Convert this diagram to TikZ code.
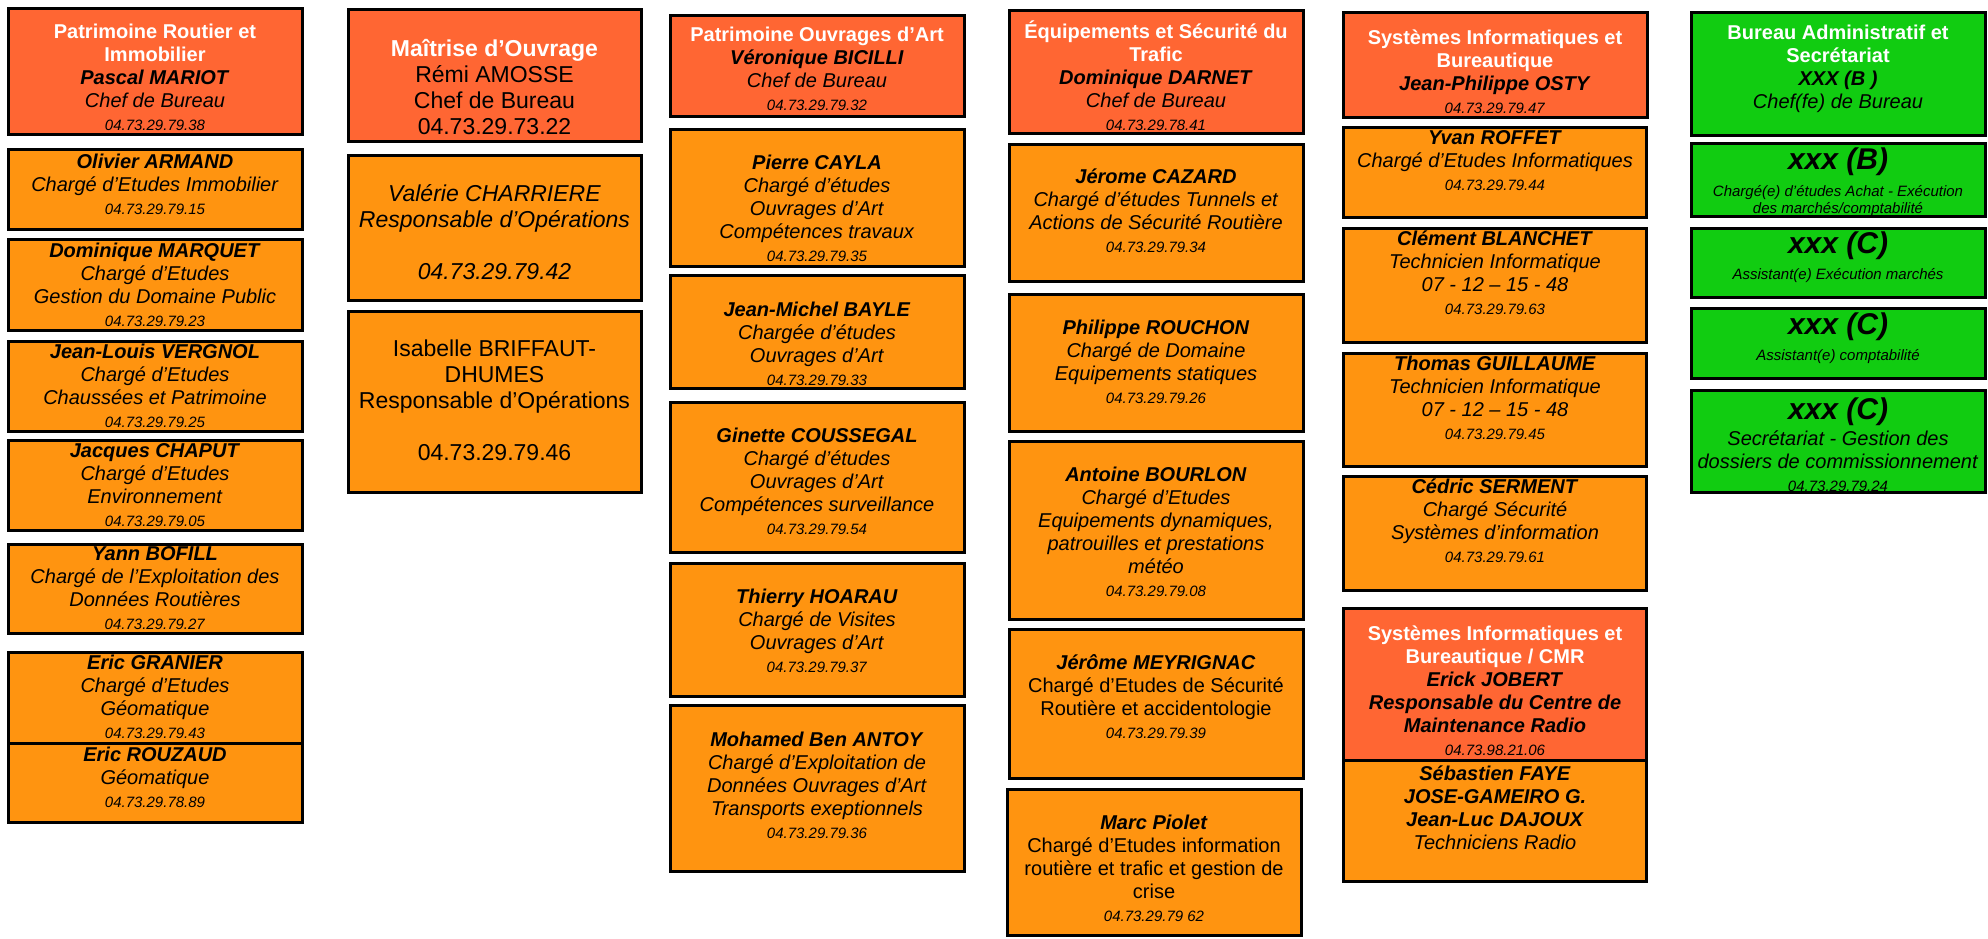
\documentclass[tikz,border=0pt]{standalone}
\usepackage{fontspec}
\setmainfont{Liberation Sans}
\usepackage{tikz}
\definecolor{rougechef}{HTML}{FF6633}
\definecolor{orangeagent}{HTML}{FF9410}
\definecolor{vertadmin}{HTML}{11CC11}
\newcommand{\titre}[1]{\textcolor{white}{\textbf{#1}}}
\newcommand{\nom}[1]{\textbf{\textit{#1}}}
\newcommand{\tel}[1]{{\fontsize{15}{17}\selectfont\textit{#1}}}
\newcommand{\grand}[1]{{\fontsize{30}{34}\selectfont\textbf{\textit{#1}}}}

\begin{document}
\begin{tikzpicture}[x=1pt, y=-1pt,
    cadre/.style={draw=black, line width=3pt},
    chef/.style={cadre, fill=rougechef},
    agent/.style={cadre, fill=orangeagent},
    admin/.style={cadre, fill=vertadmin},
    txt/.style={align=center, inner sep=0pt, font=\fontsize{20}{23}\selectfont},
    txtmo/.style={txt, font=\fontsize{23}{26}\selectfont},
    txtpetit/.style={txt, font=\fontsize{15}{17}\selectfont}]
  \useasboundingbox (0,0) rectangle (1988,938);

  % Patrimoine Routier et Immobilier
  \draw[chef]  (8,8) rectangle (302,134);
  \draw[agent] (8,149) rectangle (302,229);
  \draw[agent] (8,239) rectangle (302,330);
  \draw[agent] (8,341) rectangle (302,431);
  \draw[agent] (8,440) rectangle (302,530);
  \draw[agent] (8,544) rectangle (302,633);
  \draw[agent] (8,652) rectangle (302,743);
  \draw[agent] (8,743) rectangle (302,822);
  \node[txt] (pri) at (155,77) {\titre{Patrimoine Routier et}\\\titre{Immobilier}\\\nom{Pascal MARIOT}\\\textit{Chef de Bureau}\\\tel{04.73.29.79.38}};
  \node[txt] (armand) at (155,184) {\nom{Olivier ARMAND}\\\textit{Chargé d'Etudes Immobilier}\\\tel{04.73.29.79.15}};
  \node[txt] (marquet) at (155,285) {\nom{Dominique MARQUET}\\\textit{Chargé d'Etudes}\\\textit{Gestion du Domaine Public}\\\tel{04.73.29.79.23}};
  \node[txt] (vergnol) at (155,386) {\nom{Jean-Louis VERGNOL}\\\textit{Chargé d'Etudes}\\\textit{Chaussées et Patrimoine}\\\tel{04.73.29.79.25}};
  \node[txt] (chaput) at (155,485) {\nom{Jacques CHAPUT}\\\textit{Chargé d'Etudes}\\\textit{Environnement}\\\tel{04.73.29.79.05}};
  \node[txt] (bofill) at (155,588) {\nom{Yann BOFILL}\\\textit{Chargé de l'Exploitation des}\\\textit{Données Routières}\\\tel{04.73.29.79.27}};
  \node[txt] (granier) at (155,697) {\nom{Eric GRANIER}\\\textit{Chargé d'Etudes}\\\textit{Géomatique}\\\tel{04.73.29.79.43}};
  \node[txt] (rouzaud) at (155,777) {\nom{Eric ROUZAUD}\\\textit{Géomatique}\\\tel{04.73.29.78.89}};

  % Maitrise d'Ouvrage
  \draw[chef]  (348,9) rectangle (641,141);
  \draw[agent] (348,155) rectangle (641,300);
  \draw[agent] (348,311) rectangle (641,492);
  \node[txtmo] (moa) at (494.5,87) {\titre{Maîtrise d'Ouvrage}\\Rémi AMOSSE\\Chef de Bureau\\04.73.29.73.22};
  \node[txtmo] (charriere) at (494.5,232) {\textit{Valérie CHARRIERE}\\\textit{Responsable d'Opérations}\\[26pt]\textit{04.73.29.79.42}};
  \node[txtmo] (briffaut) at (494.5,400) {Isabelle BRIFFAUT-\\DHUMES\\Responsable d'Opérations\\[26pt]04.73.29.79.46};

  % Patrimoine Ouvrages d'Art
  \draw[chef]  (670,15) rectangle (964,116);
  \draw[agent] (670,129) rectangle (964,266);
  \draw[agent] (670,275) rectangle (964,388);
  \draw[agent] (670,402) rectangle (964,552);
  \draw[agent] (670,563) rectangle (964,696);
  \draw[agent] (670,705) rectangle (964,871);
  \node[txt] (poa) at (817,69) {\titre{Patrimoine Ouvrages d'Art}\\\nom{Véronique BICILLI}\\\textit{Chef de Bureau}\\\tel{04.73.29.79.32}};
  \node[txt] (cayla) at (817,208) {\nom{Pierre CAYLA}\\\textit{Chargé d'études}\\\textit{Ouvrages d'Art}\\\textit{Compétences travaux}\\\tel{04.73.29.79.35}};
  \node[txt] (bayle) at (817,344) {\nom{Jean-Michel BAYLE}\\\textit{Chargée d'études}\\\textit{Ouvrages d'Art}\\\tel{04.73.29.79.33}};
  \node[txt] (coussegal) at (817,481) {\nom{Ginette COUSSEGAL}\\\textit{Chargé d'études}\\\textit{Ouvrages d'Art}\\\textit{Compétences surveillance}\\\tel{04.73.29.79.54}};
  \node[txt] (hoarau) at (817,631) {\nom{Thierry HOARAU}\\\textit{Chargé de Visites}\\\textit{Ouvrages d'Art}\\\tel{04.73.29.79.37}};
  \node[txt] (antoy) at (817,785) {\nom{Mohamed Ben ANTOY}\\\textit{Chargé d'Exploitation de}\\\textit{Données Ouvrages d'Art}\\\textit{Transports exeptionnels}\\\tel{04.73.29.79.36}};

  % Equipements et Securite du Trafic
  \draw[chef]  (1009,10) rectangle (1303,133);
  \draw[agent] (1009,144) rectangle (1303,281);
  \draw[agent] (1009,294) rectangle (1303,431);
  \draw[agent] (1009,441) rectangle (1303,619);
  \draw[agent] (1009,629) rectangle (1303,778);
  \draw[agent] (1007,789) rectangle (1301,935);
  \node[txt] (est) at (1156,76) {\titre{Équipements et Sécurité du}\\\titre{Trafic}\\\nom{Dominique DARNET}\\\textit{Chef de Bureau}\\\tel{04.73.29.78.41}};
  \node[txt] (cazard) at (1156,211) {\nom{Jérome CAZARD}\\\textit{Chargé d'études Tunnels et}\\\textit{Actions de Sécurité Routière}\\\tel{04.73.29.79.34}};
  \node[txt] (rouchon) at (1156,362) {\nom{Philippe ROUCHON}\\\textit{Chargé de Domaine}\\\textit{Equipements statiques}\\\tel{04.73.29.79.26}};
  \node[txt] (bourlon) at (1156,532) {\nom{Antoine BOURLON}\\\textit{Chargé d'Etudes}\\\textit{Equipements dynamiques,}\\\textit{patrouilles et prestations}\\\textit{météo}\\\tel{04.73.29.79.08}};
  \node[txt] (meyrignac) at (1156,697) {\nom{Jérôme MEYRIGNAC}\\Chargé d'Etudes de Sécurité\\Routière et accidentologie\\\tel{04.73.29.79.39}};
  \node[txt] (piolet) at (1154,868) {\nom{Marc Piolet}\\Chargé d'Etudes information\\routière et trafic et gestion de\\crise\\\tel{04.73.29.79 62}};

  % Systemes Informatiques et Bureautique
  \draw[chef]  (1343,12) rectangle (1647,117);
  \draw[agent] (1343,127) rectangle (1646,217);
  \draw[agent] (1343,228) rectangle (1646,342);
  \draw[agent] (1343,353) rectangle (1646,466);
  \draw[agent] (1343,476) rectangle (1646,590);
  \draw[chef]  (1343,608) rectangle (1646,760);
  \draw[agent] (1343,760) rectangle (1646,881);
  \node[txt] (sib) at (1495,71.5) {\titre{Systèmes Informatiques et}\\\titre{Bureautique}\\\nom{Jean-Philippe OSTY}\\\tel{04.73.29.79.47}};
  \node[txt] (roffet) at (1495,160.5) {\nom{Yvan ROFFET}\\\textit{Chargé d'Etudes Informatiques}\\\tel{04.73.29.79.44}};
  \node[txt] (blanchet) at (1495,272.5) {\nom{Clément BLANCHET}\\\textit{Technicien Informatique}\\\textit{07 - 12 – 15 - 48}\\\tel{04.73.29.79.63}};
  \node[txt] (guillaume) at (1495,398) {\nom{Thomas GUILLAUME}\\\textit{Technicien Informatique}\\\textit{07 - 12 – 15 - 48}\\\tel{04.73.29.79.45}};
  \node[txt] (serment) at (1495,521) {\nom{Cédric SERMENT}\\\textit{Chargé Sécurité}\\\textit{Systèmes d'information}\\\tel{04.73.29.79.61}};
  \node[txt] (cmr) at (1495,691) {\titre{Systèmes Informatiques et}\\\titre{Bureautique / CMR}\\\nom{Erick JOBERT}\\\nom{Responsable du Centre de}\\\nom{Maintenance Radio}\\\tel{04.73.98.21.06}};
  \node[txt] (radio) at (1495,807.5) {\nom{Sébastien FAYE}\\\nom{JOSE-GAMEIRO G.}\\\nom{Jean-Luc DAJOUX}\\\textit{Techniciens Radio}};

  % Bureau Administratif et Secretariat
  \draw[admin] (1691,12) rectangle (1985,135);
  \draw[admin] (1691,143) rectangle (1985,216);
  \draw[admin] (1691,228) rectangle (1985,297);
  \draw[admin] (1691,308) rectangle (1985,378);
  \draw[admin] (1691,390) rectangle (1985,492);
  \node[txt] (bas) at (1838,69) {\titre{Bureau Administratif et}\\\titre{Secrétariat}\\\nom{XXX (B )}\\\textit{Chef(fe) de Bureau}};
  \node[txtpetit] (achat) at (1838,182.5) {\grand{xxx (B)}\\[9pt]\textit{Chargé(e) d'études Achat - Exécution}\\\textit{des marchés/comptabilité}};
  \node[txtpetit] (execution) at (1838,257.5) {\grand{xxx (C)}\\[8pt]\textit{Assistant(e) Exécution marchés}};
  \node[txtpetit] (compta) at (1838,338.5) {\grand{xxx (C)}\\[8pt]\textit{Assistant(e) comptabilité}};
  \node[txt] (secretariat) at (1838,444.5) {\grand{xxx (C)}\\[3pt]\textit{Secrétariat - Gestion des}\\\textit{dossiers de commissionnement}\\\tel{04.73.29.79.24}};
\end{tikzpicture}
\end{document}
